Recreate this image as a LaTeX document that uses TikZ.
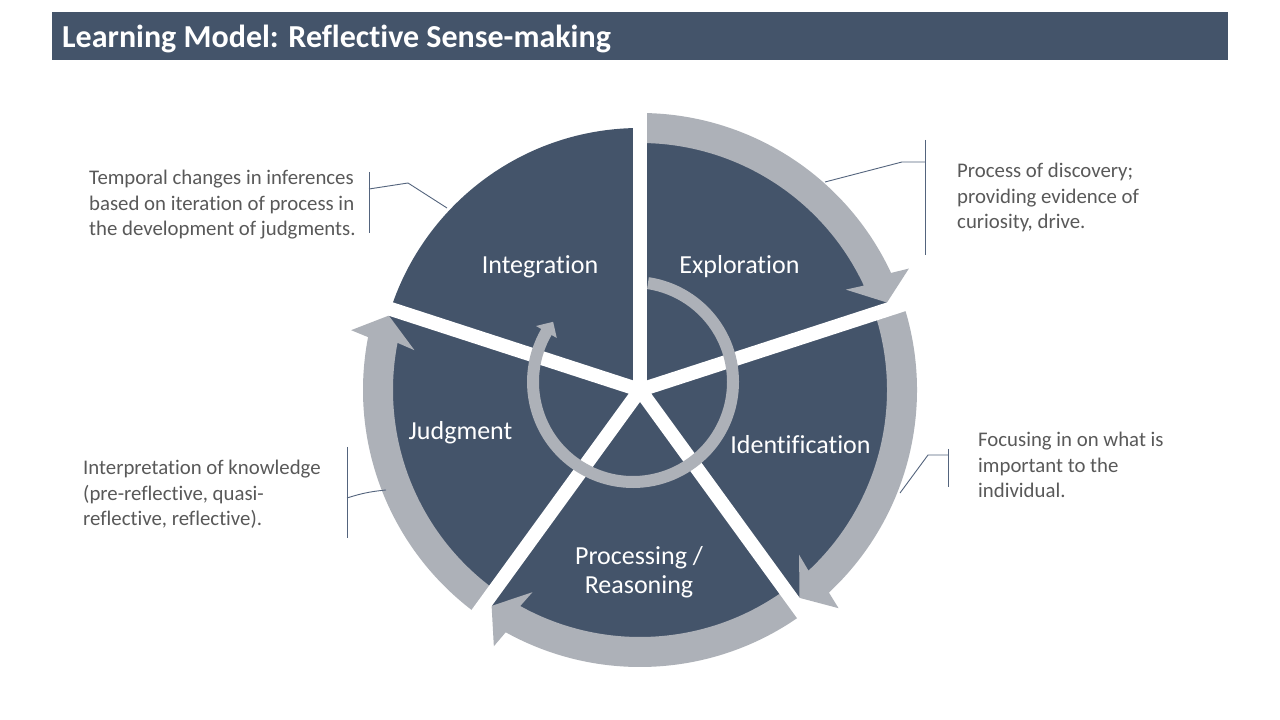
\documentclass[tikz,border=0pt]{standalone}
\usepackage{fontspec}
\setmainfont{Carlito}[Ligatures=NoCommon]
\definecolor{slate}{RGB}{68,84,106}
\definecolor{arrowgrey}{RGB}{173,177,184}
\definecolor{textgrey}{RGB}{89,89,89}
\definecolor{leadcol}{RGB}{84,100,125}
\newcommand\bandarrow[2]{%
  \pgfmathsetmacro\hbA{#2+5.5}%
  \pgfmathsetmacro\hbO{#2+4.8}%
  \pgfmathsetmacro\hbI{#2+6.5}%
  \fill[arrowgrey] (#1:277) arc[start angle=#1, end angle=\hbA, radius=277]
    -- (\hbO:295) -- (#2:262) -- (\hbI:229) -- (\hbA:247)
    arc[start angle=\hbA, end angle=#1, radius=247] -- cycle;}
\begin{document}
\begin{tikzpicture}[x=1pt,y=1pt,
  seglabel/.style={text=white, font=\fontsize{26}{29}\selectfont, inner sep=0, anchor=base},
  sidetext/.style={text=textgrey, font=\fontsize{20.8}{25.3}\selectfont, align=left, inner sep=0, anchor=north west},
  leader/.style={draw=leadcol, line width=0.9pt},
  divider/.style={draw=white, line width=14pt}]
\useasboundingbox (0,0) rectangle (1280,720);
\fill[white] (0,0) rectangle (1280,720);
% title
\node (titlebar) [fill=slate, minimum width=1176, minimum height=48, inner sep=0, anchor=north west] at (52,708) {};
\node (title) [text=white, font=\fontsize{32}{38}\selectfont\bfseries, inner sep=0, anchor=base west] at (62,672.5) {Learning Model: Reflective Sense-making};
% pie
\coordinate (C) at (640,330);
\fill[slate] (C) circle[radius=262];
\begin{scope}[shift={(C)}]
  \bandarrow{90}{19.5}
  \bandarrow{18}{-52.5}
  \bandarrow{-54}{-124.5}
  \bandarrow{-126}{-196.5}
\end{scope}
\foreach \a in {90,18,-54,-126,162} \draw[divider] (C) -- ++(\a:290);
% inner ring arrow
\begin{scope}[shift={(633,338)}]
  \fill[arrowgrey] (81.4:106) arc[start angle=81.4, end angle=-210, radius=106]
    -- (-210:112) -- (-217:100) -- (-210:88) -- (-210:94)
    arc[start angle=-210, end angle=81.4, radius=94] -- cycle;
\end{scope}
% segment labels
\node (integ) [seglabel] at (540,446) {Integration};
\node (explo) [seglabel] at (739.5,446) {Exploration};
\node (ident) [seglabel] at (800.5,266) {Identification};
\node (judg) [seglabel] at (460.5,280) {Judgment};
\node (proc) [seglabel] at (639,155) {Processing /};
\node (reas) [seglabel] at (639,126) {Reasoning};
% side texts
\node (tltext) [sidetext] at (89,553) {\strut Temporal changes in inferences\\based on iteration of process in\\the development of judgments.};
\node (bltext) [sidetext] at (83,263) {\strut Interpretation of knowledge\\(pre-reflective, quasi-\\reflective, reflective).};
\node (trtext) [sidetext] at (957,560) {\strut Process of discovery;\\providing evidence of\\curiosity, drive.};
\node (brtext) [sidetext] at (978,291) {\strut Focusing in on what is\\important to the\\individual.};
% callout leaders
\coordinate (tla) at (369,548);
\coordinate (tlb) at (369,487);
\coordinate (tlm) at (369,531);
\coordinate (tlk) at (408,537);
\coordinate (tle) at (447,512);
\draw[leader] (tla) -- (tlb);
\draw[leader] (tlm) -- (tlk) -- (tle);
\coordinate (bla) at (347,273);
\coordinate (blb) at (347,182);
\coordinate (blm) at (347,222);
\coordinate (ble) at (386,230);
\draw[leader] (bla) -- (blb);
\draw[leader] (blm) to[bend left=6] (ble);
\coordinate (tra) at (925,580);
\coordinate (trb) at (925,465);
\coordinate (trm) at (925,558);
\coordinate (trk) at (902,558);
\coordinate (tre) at (825,538);
\draw[leader] (tra) -- (trb);
\draw[leader] (trm) -- (trk) -- (tre);
\coordinate (bra) at (948,271);
\coordinate (brb) at (948,233);
\coordinate (brm) at (948,265);
\coordinate (brk) at (928,265);
\coordinate (bre) at (900,227);
\draw[leader] (bra) -- (brb);
\draw[leader] (brm) -- (brk) -- (bre);
\end{tikzpicture}
\end{document}
